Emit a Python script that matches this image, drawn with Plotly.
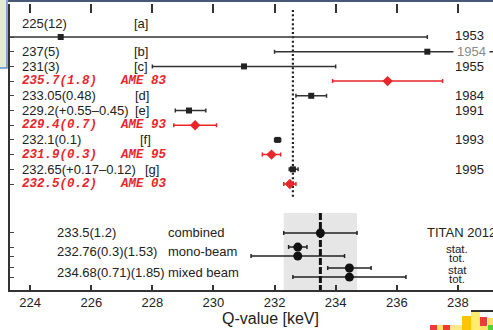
import plotly.graph_objects as go

# ---------------- data ----------------
lit_labels = ["225(12)", "237(5)", "231(3)", "235.7(1.8)", "233.05(0.48)",
              "229.2(+0.55–0.45)", "229.4(0.7)", "232.1(0.1)", "231.9(0.3)",
              "232.65(+0.17–0.12)", "232.5(0.2)"]
lit_refs = ["[a]", "[b]", "[c]", "AME 83", "[d]", "[e]", "AME 93", "[f]",
            "AME 95", "[g]", "AME 03"]
lit_years = ["1953", "1954", "1955", "", "1984", "1991", "", "1993", "", "1995", ""]
lit_is_ame = [False, False, False, True, False, False, True, False, True, False, True]
lit_values = [225.0, 237.0, 231.0, 235.7, 233.2, 229.2, 229.4, 232.1, 231.9, 232.6, 232.5]
lit_err_plus = [12.0, 5.0, 3.0, 1.8, 0.5, 0.55, 0.7, 0.1, 0.3, 0.17, 0.2]
lit_err_minus = [12.0, 5.0, 3.0, 1.8, 0.5, 0.45, 0.7, 0.1, 0.3, 0.12, 0.2]
lit_rows = [0, 1, 2, 3, 4, 5, 6, 7, 8, 9, 10]

titan_labels = ["233.5(1.2)", "232.76(0.3)(1.53)", "234.68(0.71)(1.85)"]
titan_names = ["combined", "mono-beam", "mixed beam"]
titan_label_rows = [13.33, 14.6, 16.02]
titan_values = [233.5, 232.76, 232.76, 234.45, 234.45]
titan_errors = [1.2, 0.3, 1.53, 0.71, 1.85]
titan_rows = [13.33, 14.29, 14.9, 15.71, 16.33]
titan_kinds = ["", "stat.", "tot.", "stat", "tot."]

combined_value = 233.5
combined_error = 1.2
ame03_line_value = 232.6

x_ticks = [224, 226, 228, 230, 232, 234, 236, 238]

RED = "#e8262b"
BLK = "#222222"

# -------------- figure ----------------
W, H = 493, 330
ML, MR, MT, MB = 10, 0, 4, 40
PW = W - ML - MR
PH = H - MT - MB


def px(xp):
    return (xp - ML) / PW


def py(yp):
    return (H - MB - yp) / PH


fig = go.Figure()

blk_idx = [i for i in range(len(lit_values)) if not lit_is_ame[i]]
red_idx = [i for i in range(len(lit_values)) if lit_is_ame[i]]

fig.add_trace(go.Scatter(
    x=[lit_values[i] for i in blk_idx], y=[lit_rows[i] for i in blk_idx],
    mode="markers", marker=dict(symbol="square", size=6, color=BLK),
    error_x=dict(type="data", symmetric=False,
                 array=[lit_err_plus[i] for i in blk_idx],
                 arrayminus=[lit_err_minus[i] for i in blk_idx],
                 color="#333333", thickness=1.5, width=2),
    cliponaxis=False, showlegend=False))

fig.add_trace(go.Scatter(
    x=[lit_values[i] for i in red_idx], y=[lit_rows[i] for i in red_idx],
    mode="markers", marker=dict(symbol="diamond", size=8, color=RED),
    error_x=dict(type="data", symmetric=False,
                 array=[lit_err_plus[i] for i in red_idx],
                 arrayminus=[lit_err_minus[i] for i in red_idx],
                 color=RED, thickness=1.5, width=2),
    showlegend=False))

fig.add_trace(go.Scatter(
    x=titan_values, y=titan_rows, mode="markers",
    marker=dict(symbol="circle", size=9, color="#111111"),
    error_x=dict(type="data", array=titan_errors, color="#222222",
                 thickness=1.5, width=2),
    showlegend=False))

shapes = []
# grey band of combined value
shapes.append(dict(type="rect", xref="x", yref="y",
                   x0=combined_value - combined_error, x1=combined_value + combined_error,
                   y0=11.97, y1=17.21, fillcolor="#e6e6e6", line_width=0, layer="below"))
# dashed line at combined value
shapes.append(dict(type="line", xref="x", yref="y", x0=combined_value, x1=combined_value,
                   y0=11.97, y1=17.21, line=dict(color="#111111", width=3, dash="7px,2px"),
                   layer="above"))
# dotted line
shapes.append(dict(type="line", xref="x", yref="y", x0=ame03_line_value, x1=ame03_line_value,
                   y0=-1.84, y1=10.88, line=dict(color="#222222", width=2.2, dash="2px,2.4px"),
                   layer="below"))
# top frame line
shapes.append(dict(type="line", xref="paper", yref="paper", x0=px(8), x1=1.0,
                   y0=py(1), y1=py(1), line=dict(color="#4a5878", width=2)))
# left screenshot box
shapes.append(dict(type="rect", xref="paper", yref="paper", x0=px(-2), x1=px(7),
                   y0=py(68), y1=py(-2), fillcolor="#e3ead6",
                   line=dict(color="#5b8fd0", width=1.5)))
# bottom-right colour blocks (artifact)
blocks = [
    (430, 437, 325, 332, "#f03a3a"), (437, 443, 325, 332, "#ffe066"),
    (443, 450, 325, 332, "#f03a3a"), (450, 462, 325, 332, "#ffe88a"),
    (462, 471, 316, 332, "#ffc400"), (471, 480, 311, 332, "#ffec6e"),
    (480, 487, 317, 326, "#f03a3a"), (480, 488, 326, 332, "#ffe066"),
    (488, 493, 318, 325, "#ffe066"), (488, 493, 325, 332, "#55d13a"),
]
for x0, x1, y0, y1, c in blocks:
    shapes.append(dict(type="rect", xref="paper", yref="paper", x0=px(x0), x1=px(x1),
                       y0=py(y1), y1=py(y0), fillcolor=c, line_width=0))
shapes.append(dict(type="line", xref="paper", yref="paper", x0=px(471), x1=1.0,
                   y0=py(311), y1=py(311), line=dict(color="#333333", width=2)))

ann = []
sans = "Liberation Sans, Arial, sans-serif"
mono = "Liberation Mono, Courier New, monospace"
ref_x = [132, 132, 132, 118, 133, 133, 118, 138, 118, 143, 118]
for i, lab in enumerate(lit_labels):
    row = lit_rows[i] if i > 0 else -0.95
    if lit_is_ame[i]:
        f = dict(family=mono, size=12.5, color=RED)
        t1 = "<i><b>" + lab + "</b></i>"
        t2 = "<i><b>" + lit_refs[i] + "</b></i>"
    else:
        f = dict(family=sans, size=13, color=BLK)
        t1 = lab
        t2 = lit_refs[i]
    ann.append(dict(x=px(20), y=row, xref="paper", yref="y", text=t1, showarrow=False,
                    xanchor="left", yanchor="middle", font=f))
    ann.append(dict(x=px(ref_x[i]), y=row, xref="paper", yref="y", text=t2, showarrow=False,
                    xanchor="left", yanchor="middle", font=f))
    if lit_years[i]:
        grey = lit_years[i] == "1954"
        ann.append(dict(x=px(453), y=lit_rows[i] - (0.1 if i == 0 else 0), xref="paper", yref="y",
                        text=lit_years[i], showarrow=False, xanchor="left", yanchor="middle",
                        font=dict(family=sans, size=13, color="#8a8a8a" if grey else BLK),
                        bgcolor="white" if grey else None, borderpad=3 if grey else 1))

for i, lab in enumerate(titan_labels):
    ann.append(dict(x=px(55), y=titan_label_rows[i], xref="paper", yref="y", text=lab,
                    showarrow=False, xanchor="left", yanchor="middle",
                    font=dict(family=sans, size=13, color=BLK)))
    ann.append(dict(x=px(166), y=titan_label_rows[i], xref="paper", yref="y", text=titan_names[i],
                    showarrow=False, xanchor="left", yanchor="middle",
                    font=dict(family=sans, size=13, color=BLK)))

ann.append(dict(x=px(425), y=titan_rows[0], xref="paper", yref="y", text="TITAN 2012",
                showarrow=False, xanchor="left", yanchor="middle",
                font=dict(family=sans, size=13, color=BLK)))
for i in range(1, len(titan_kinds)):
    ann.append(dict(x=px(457), y=titan_rows[i], xref="paper", yref="y", text=titan_kinds[i],
                    showarrow=False, xanchor="center", yanchor="middle", yshift=-2,
                    font=dict(family=sans, size=11.5, color=BLK)))

ann.append(dict(x=px(270), y=py(318), xref="paper", yref="paper", text="Q-value [keV]",
                showarrow=False, xanchor="center", yanchor="middle",
                font=dict(family=sans, size=16, color=BLK)))

x_range = [223.34, 239.15]
fig.update_layout(
    width=W, height=H, margin=dict(l=ML, r=MR, t=MT, b=MB),
    paper_bgcolor="white", plot_bgcolor="white",
    shapes=shapes, annotations=ann, showlegend=False,
    xaxis=dict(range=x_range, tickvals=x_ticks, ticks="inside", ticklen=5, tickwidth=1.5,
               tickcolor="#333333", showline=True, linecolor="#333333", linewidth=1.5,
               showgrid=False, zeroline=False, mirror=False,
               tickfont=dict(family=sans, size=13, color=BLK)),
    xaxis2=dict(range=x_range, tickvals=x_ticks, ticks="inside", ticklen=9, tickwidth=1.5,
                tickcolor="#333333", showline=False, showgrid=False, zeroline=False,
                showticklabels=False, overlaying="x", side="top", matches="x"),
    yaxis=dict(range=[17.21, -2.245], tickvals=lit_rows + titan_rows, ticks="inside",
               ticklen=4, tickwidth=1.2, tickcolor="#444444", showticklabels=False,
               showline=True, linecolor="#333333", linewidth=1.5, showgrid=False,
               zeroline=False),
)
# dummy trace to activate the top axis
fig.add_trace(go.Scatter(x=[x_range[0]], y=[None], xaxis="x2", mode="markers",
                         showlegend=False, hoverinfo="skip"))

fig.write_html("out.html", config={"displayModeBar": False},
               post_script="document.body.style.margin='0';document.body.style.overflow='hidden';")
